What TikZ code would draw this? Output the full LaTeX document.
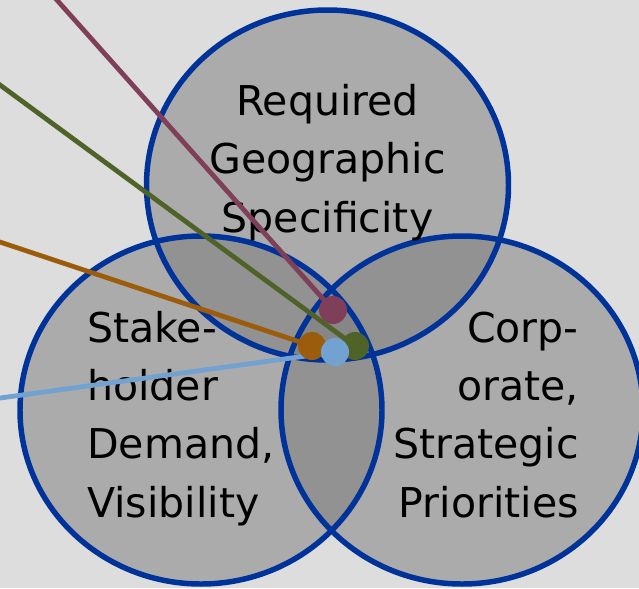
\documentclass[tikz,border=0pt]{standalone}
\usepackage{fontspec}
\setmainfont{DejaVu Sans}
\usepackage{xcolor}
\usepackage{tikz}
\usetikzlibrary{positioning}

\definecolor{bgray}{HTML}{DDDDDD}
\definecolor{vennfill}{HTML}{7B7B7B}
\definecolor{vennblue}{HTML}{003399}
\definecolor{cmag}{HTML}{7F3F58}
\definecolor{cgreen}{HTML}{4F6228}
\definecolor{corange}{HTML}{9B5C0B}
\definecolor{cblue}{HTML}{72A2D2}

\begin{document}
\begin{tikzpicture}[x=0.025cm, y=-0.025cm,
      vennfill/.style={fill=vennfill, fill opacity=0.5},
      vennline/.style={draw=vennblue, line width=3.9pt},
      lbl/.style={font=\fontsize{29.2pt}{41.3pt}\selectfont, inner sep=0pt, text=black},
      link/.style={line width=3.4pt},
      dot/.style={circle, inner sep=0pt, minimum size=0.7cm}
    ]
    % Canvas
    \fill[bgray] (0,0) rectangle (639,588);
    \clip (0,0) rectangle (639,588);

    % Circles
    \fill[vennfill] (327.5,185) ellipse [x radius=181, y radius=175];
    \fill[vennfill] (201,410) ellipse [x radius=181, y radius=174];
    \fill[vennfill] (462,410) ellipse [x radius=181, y radius=174];
    \draw[vennline] (327.5,185) ellipse [x radius=181, y radius=175];
    \draw[vennline] (201,410) ellipse [x radius=181, y radius=174];
    \draw[vennline] (462,410) ellipse [x radius=181, y radius=174];

    % Labels (base = last line)
    \node[lbl, align=center, anchor=base] (geo) at (327.5,232) {Required\\Geographic\\Specificity};
    \node[lbl, align=left, anchor=base west] (stake) at (87,517) {Stake-\\holder\\Demand,\\Visibility};
    \node[lbl, align=right, anchor=base east] (corp) at (579,517) {Corp-\\orate,\\Strategic\\Priorities};

    % Points
    \coordinate (pm) at (333,310);
    \coordinate (pg) at (355,346);
    \coordinate (po) at (312,346);
    \coordinate (pb) at (335,352);
    \coordinate (sm) at (48,-10);
    \coordinate (sg) at (-10,77.6);
    \coordinate (so) at (-10,238.7);
    \coordinate (sb) at (-10,399.4);

    % Links
    \draw[link, cmag] (sm) -- (pm);
    \draw[link, cgreen] (sg) -- (pg);
    \draw[link, corange] (so) -- (po);
    \draw[link, cblue] (sb) -- (pb);

    % Dots
    \node[dot, fill=cmag] (dm) at (pm) {};
    \node[dot, fill=cgreen] (dg) at (pg) {};
    \node[dot, fill=corange] (do) at (po) {};
    \node[dot, fill=cblue] (db) at (pb) {};
  \end{tikzpicture}
\end{document}
